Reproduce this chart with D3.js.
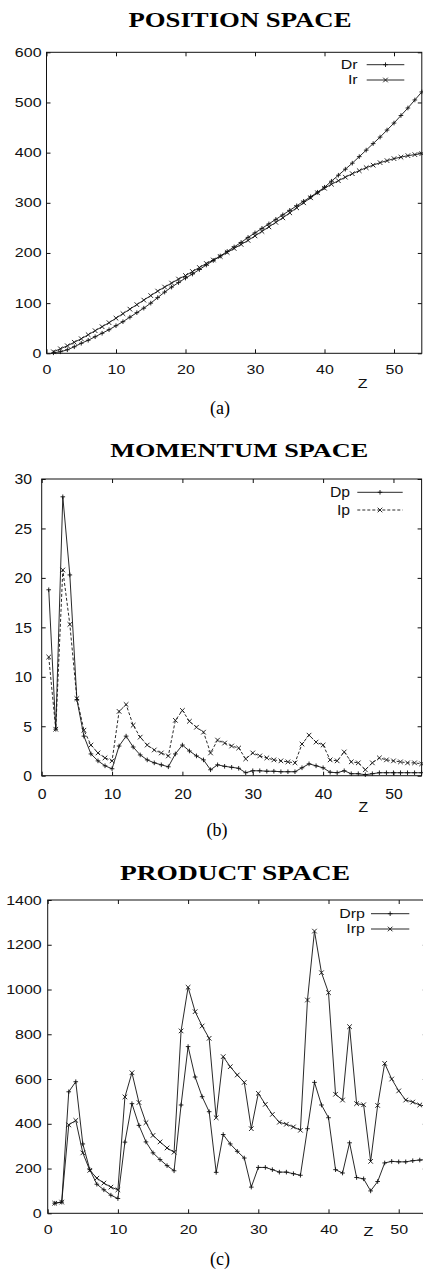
<!DOCTYPE html>
<html>
<head>
<meta charset="utf-8">
<script src="https://cdn.jsdelivr.net/npm/d3@7"></script>
<style>
  body { margin: 0; background: #fff; }
  svg { display: block; }
</style>
</head>
<body>
<script>
'use strict';

// atomic number Z, shared x values of all three panels
let zValues = [1, 2, 3, 4, 5, 6, 7, 8, 9, 10,
  11, 12, 13, 14, 15, 16, 17, 18, 19, 20,
  21, 22, 23, 24, 25, 26, 27, 28, 29, 30,
  31, 32, 33, 34, 35, 36, 37, 38, 39, 40,
  41, 42, 43, 44, 45, 46, 47, 48, 49, 50,
  51, 52, 53, 54];

// (a) position space
let drValues = [1, 3, 7, 13, 20, 26, 33, 40, 47, 55,
  63, 72, 81, 90, 100, 111, 122, 132, 141, 150,
  158, 167, 176, 185, 194, 203, 212, 221, 231, 240,
  249, 258, 267, 276, 285, 294, 303, 312, 321, 331,
  343, 355, 367, 379, 392, 405, 418, 431, 445, 459,
  474, 489, 505, 521];
let irValues = [3, 9, 15, 22, 29, 37, 45, 53, 61, 70,
  79, 88, 97, 106, 115, 124, 132, 140, 148, 155,
  163, 171, 179, 186, 193, 201, 209, 217, 225, 234,
  243, 252, 261, 270, 280, 290, 300, 310, 320, 329,
  337, 344, 351, 358, 364, 370, 375, 380, 384, 388,
  391, 394, 396, 398];

// (b) momentum space
let dpValues = [18.8, 4.7, 28.2, 20.3, 7.7, 4.0, 2.2, 1.5, 1.0, 0.7,
  3.0, 4.0, 2.9, 2.1, 1.6, 1.3, 1.1, 0.9, 2.2, 3.1,
  2.5, 2.0, 1.6, 0.6, 1.1, 0.95, 0.85, 0.75, 0.3, 0.5,
  0.5, 0.45, 0.45, 0.4, 0.4, 0.4, 0.8, 1.2, 1.0, 0.8,
  0.35, 0.3, 0.5, 0.2, 0.2, 0.1, 0.2, 0.3, 0.3, 0.3,
  0.3, 0.3, 0.3, 0.3];
let ipValues = [12.0, 4.7, 20.8, 15.3, 7.8, 4.6, 3.1, 2.3, 1.8, 1.5,
  6.5, 7.2, 5.1, 3.9, 3.1, 2.6, 2.3, 2.0, 5.6, 6.6,
  5.5, 4.9, 4.4, 2.3, 3.6, 3.3, 3.0, 2.8, 1.7, 2.3,
  2.0, 1.8, 1.6, 1.5, 1.4, 1.3, 3.2, 4.1, 3.4, 3.1,
  1.6, 1.5, 2.4, 1.4, 1.3, 0.6, 1.3, 1.8, 1.6, 1.5,
  1.4, 1.3, 1.3, 1.2];

// (c) product space
let drpValues = [45, 50, 543, 588, 310, 195, 130, 105, 81, 66,
  318, 490, 393, 319, 270, 240, 213, 190, 484, 745,
  609, 521, 454, 183, 352, 310, 277, 247, 117, 205,
  205, 195, 184, 184, 177, 170, 378, 585, 484, 427,
  195, 180, 315, 160, 154, 100, 142, 225, 232, 230,
  230, 235, 238, 240];
let irpValues = [45, 50, 395, 415, 270, 192, 157, 135, 117, 105,
  520, 628, 495, 405, 348, 319, 292, 273, 815, 1010,
  901, 837, 782, 427, 700, 655, 618, 585, 378, 536,
  487, 442, 407, 398, 386, 371, 953, 1261, 1075, 986,
  532, 506, 834, 490, 485, 232, 482, 670, 600, 547,
  506, 497, 484, 478];

// tick values
let zTicks = [0, 10, 20, 30, 40, 50];
let posTicks = [0, 100, 200, 300, 400, 500, 600];
let momTicks = [0, 5, 10, 15, 20, 25, 30];
let prodTicks = [0, 200, 400, 600, 800, 1000, 1200, 1400];

let sansFont = '"Liberation Sans", Arial, Helvetica, sans-serif';
let serifFont = '"Liberation Serif", "Times New Roman", serif';
let ink = '#111';

let svg = d3.select('body')
  .append('svg')
  .attr('width', 423)
  .attr('height', 1269);

// gnuplot style point markers
function plusPath(x, y, r) {
  return `M${x - r},${y}h${2 * r}M${x},${y - r}v${2 * r}`;
}
function crossPath(x, y, r) {
  return `M${x - r},${y - r}l${2 * r},${2 * r}M${x - r},${y + r}l${2 * r},${-2 * r}`;
}

// text that is stretched sideways like the original figure
function stretchedText(g, x, y, txt, size, sx, anchor) {
  g.append('g')
    .attr('transform', `translate(${x},${y})`)
    .append('text')
    .attr('transform', `scale(${sx},1)`)
    .attr('text-anchor', anchor)
    .style('font-family', sansFont)
    .style('font-size', size + 'px')
    .attr('fill', ink)
    .text(txt);
}

function makePanel(p) {
  let g = svg.append('g');

  let xScale = d3.scaleLinear().domain([0, 54]).range([p.left, p.right]);
  let yScale = d3.scaleLinear().domain([0, p.yMax]).range([p.bottom, p.top]);

  // title and caption
  g.append('text')
    .attr('x', p.titleX)
    .attr('y', p.titleY)
    .attr('text-anchor', 'middle')
    .attr('textLength', p.titleLen)
    .attr('lengthAdjust', 'spacingAndGlyphs')
    .style('font-family', serifFont)
    .style('font-weight', 'bold')
    .style('font-size', p.titleSize + 'px')
    .text(p.title);

  g.append('text')
    .attr('x', p.capX)
    .attr('y', p.capY)
    .attr('text-anchor', 'middle')
    .style('font-family', serifFont)
    .style('font-size', '18px')
    .text(p.caption);

  // axes, ticks point inward on all four sides
  let yAxis = d3.axisLeft(yScale).tickValues(p.yTicks).tickSize(-4)
    .tickPadding(p.yGap / p.sx).tickFormat(d3.format('d'));
  let yAxisR = d3.axisRight(yScale).tickValues(p.yTicks).tickSize(-4).tickFormat('');
  let xAxis = d3.axisBottom(xScale).tickValues(zTicks).tickSize(-4)
    .tickPadding(p.xGap).tickFormat(d3.format('d'));
  let xAxisT = d3.axisTop(xScale).tickValues(zTicks).tickSize(-4).tickFormat('');

  let axes = [
    g.append('g').attr('transform', `translate(${p.left},0)`).call(yAxis),
    g.append('g').attr('transform', `translate(${p.right},0)`).call(yAxisR),
    g.append('g').attr('transform', `translate(0,${p.bottom})`).call(xAxis),
    g.append('g').attr('transform', `translate(0,${p.top})`).call(xAxisT)
  ];
  axes.forEach(a => {
    a.select('.domain').remove();
    a.selectAll('.tick line').attr('stroke', ink);
    a.selectAll('.tick text')
      .attr('transform', `scale(${p.sx},1)`)
      .style('font-family', sansFont)
      .style('font-size', p.fontSize + 'px')
      .attr('fill', ink);
  });

  // frame
  g.append('rect')
    .attr('x', p.left)
    .attr('y', p.top)
    .attr('width', p.right - p.left)
    .attr('height', p.bottom - p.top)
    .attr('fill', 'none')
    .attr('stroke', ink)
    .attr('stroke-width', 1);

  // axis label
  stretchedText(g, p.zX, p.zY, 'Z', p.fontSize, p.sx, 'middle');

  // series lines and markers
  p.series.forEach((s, i) => {
    let line = d3.line()
      .x((d, k) => xScale(zValues[k]))
      .y(d => yScale(d));

    g.append('path')
      .datum(s.values)
      .attr('fill', 'none')
      .attr('stroke', ink)
      .attr('stroke-width', 0.9)
      .attr('stroke-dasharray', s.dash ? '3,2' : null)
      .attr('d', line);

    let marker = s.mark === 'plus' ? plusPath : crossPath;
    g.selectAll('.mk' + i)
      .data(s.values)
      .enter()
      .append('path')
      .attr('d', (d, k) => marker(xScale(zValues[k]), yScale(d), 2.3))
      .attr('stroke', ink)
      .attr('stroke-width', 0.9)
      .attr('fill', 'none');

    // key entry
    let ky = p.keyRows[i];
    stretchedText(g, p.keyTextRight, ky + p.fontSize * 0.34, s.name, p.fontSize, p.sx, 'end');
    g.append('line')
      .attr('x1', p.keyLine[0])
      .attr('x2', p.keyLine[1])
      .attr('y1', ky)
      .attr('y2', ky)
      .attr('stroke', ink)
      .attr('stroke-width', 0.9)
      .attr('stroke-dasharray', s.dash ? '3,2' : null);
    g.append('path')
      .attr('d', marker((p.keyLine[0] + p.keyLine[1]) / 2, ky, 2.3))
      .attr('stroke', ink)
      .attr('stroke-width', 0.9);
  });
}

makePanel({
  title: 'POSITION SPACE', titleX: 240, titleY: 26.7, titleLen: 223, titleSize: 21,
  caption: '(a)', capX: 220, capY: 414,
  left: 46.5, right: 421.8, top: 52.3, bottom: 353.3,
  yMax: 600, yTicks: posTicks,
  fontSize: 12.2, sx: 1.31, yGap: 5, xGap: 12,
  zX: 362.7, zY: 387.6,
  keyTextRight: 357.7, keyLine: [366.7, 404.3], keyRows: [64.7, 80],
  series: [
    { name: 'Dr', values: drValues, mark: 'plus', dash: false },
    { name: 'Ir', values: irValues, mark: 'cross', dash: false }
  ]
});

makePanel({
  title: 'MOMENTUM SPACE', titleX: 239.2, titleY: 456.7, titleLen: 258, titleSize: 18,
  caption: '(b)', capX: 217, capY: 836,
  left: 41.7, right: 421.6, top: 479, bottom: 775.7,
  yMax: 30, yTicks: momTicks,
  fontSize: 15, sx: 1.05, yGap: 9.7, xGap: 12.6,
  zX: 363.3, zY: 811.7,
  keyTextRight: 350, keyLine: [357.3, 402.7], keyRows: [492.3, 510],
  series: [
    { name: 'Dp', values: dpValues, mark: 'plus', dash: false },
    { name: 'Ip', values: ipValues, mark: 'cross', dash: true }
  ]
});

makePanel({
  title: 'PRODUCT SPACE', titleX: 235, titleY: 880, titleLen: 230, titleSize: 22,
  caption: '(c)', capX: 220, capY: 1265,
  left: 47.7, right: 426.8, top: 900, bottom: 1213.3,
  yMax: 1400, yTicks: prodTicks,
  fontSize: 13, sx: 1.23, yGap: 6, xGap: 11.7,
  zX: 368.3, zY: 1236,
  keyTextRight: 365, keyLine: [371, 409.3], keyRows: [913.7, 929],
  series: [
    { name: 'Drp', values: drpValues, mark: 'plus', dash: false },
    { name: 'Irp', values: irpValues, mark: 'cross', dash: false }
  ]
});
</script>
</body>
</html>
